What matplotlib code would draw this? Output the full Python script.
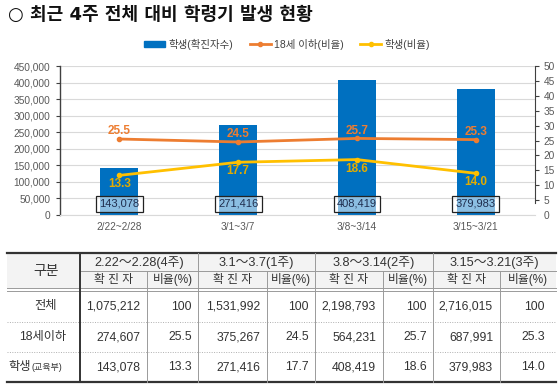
import matplotlib
matplotlib.use("Agg")
import matplotlib.pyplot as plt
from matplotlib.patches import Patch, Rectangle
from matplotlib.lines import Line2D
from matplotlib.ticker import FuncFormatter

plt.rcParams['font.family'] = ['Liberation Sans', 'Noto Sans CJK KR', 'DejaVu Sans']

# ---------------- data ----------------
title = "○ 최근 4주 전체 대비 학령기 발생 현황"
week_labels = ["2/22~2/28", "3/1~3/7", "3/8~3/14", "3/15~3/21"]
periods = ["2.22～2.28(4주)", "3.1～3.7(1주)", "3.8～3.14(2주)", "3.15～3.21(3주)"]
total_cases = [1075212, 1531992, 2198793, 2716015]
total_ratio = [100, 100, 100, 100]
under18_cases = [274607, 375267, 564231, 687991]
under18_ratio = [25.5, 24.5, 25.7, 25.3]
student_cases = [143078, 271416, 408419, 379983]
student_ratio = [13.3, 17.7, 18.6, 14.0]
legend_labels = ["학생(확진자수)", "18세 이하(비율)", "학생(비율)"]
row_labels = ["전체", "18세이하", "학생"]
row_label_suffix = "(교육부)"
sub_headers = ["확 진 자", "비율(%)"]
corner_label = "구분"

BLUE = '#0070C0'
ORANGE = '#ED7D31'
YELLOW = '#FFC000'
TICKC = '#595959'

W, H = 559, 387
fig = plt.figure(figsize=(W / 100, H / 100), dpi=100)

# ---------------- chart ----------------
ax = fig.add_axes([60 / W, (H - 215) / H, (535 - 60) / W, (215 - 66) / H])
x = list(range(len(week_labels)))
ax.bar(x, student_cases, width=0.32, color=BLUE, zorder=2)
ax.set_xlim(-0.5, 3.5)
ax.set_ylim(0, 450000)
ax.set_yticks(range(0, 450001, 50000))
ax.yaxis.set_major_formatter(FuncFormatter(lambda v, p: f"{int(v):,}"))
ax.grid(axis='y', color='#D9D9D9', lw=0.8)
ax.set_axisbelow(True)
ax.set_xticks(x)
ax.set_xticklabels(week_labels)
ax.tick_params(axis='x', length=0, pad=5, labelsize=7.3, labelcolor=TICKC)
ax.tick_params(axis='y', direction='out', length=3, width=0.8, color='#404040',
               pad=4, labelsize=7.3, labelcolor=TICKC)
for s in ['top', 'right']:
    ax.spines[s].set_visible(False)
ax.spines['bottom'].set_color('#D9D9D9')
ax.spines['left'].set_color('#404040')
ax.spines['left'].set_linewidth(1.0)

for i, v in enumerate(student_cases):
    ax.annotate(f"{v:,}", xy=(i, 0), xytext=(0, 8), textcoords='offset points',
                ha='center', va='center', fontsize=8, color='#1F2D4D', zorder=5,
                bbox=dict(boxstyle='square,pad=0.3', fc=(1, 1, 1, 0.55), ec='#222222', lw=0.9))

ax2 = ax.twinx()
ax2.set_ylim(0, 50)
ax2.set_yticks(range(0, 51, 5))
ax2.plot(x, under18_ratio, color=ORANGE, lw=2, marker='o', ms=3, zorder=3)
ax2.plot(x, student_ratio, color=YELLOW, lw=2, marker='o', ms=3, zorder=3)
for s in ['top', 'left', 'bottom']:
    ax2.spines[s].set_visible(False)
ax2.spines['right'].set_color('#404040')
ax2.spines['right'].set_bounds(4, 50)
ax2.tick_params(axis='y', direction='out', length=3, width=0.8, color='#404040',
                pad=3, labelsize=7.3, labelcolor=TICKC)
ax2.yaxis.get_major_ticks()[0].tick2line.set_visible(False)

for i, v in enumerate(under18_ratio):
    ax2.annotate(f"{v:.1f}", xy=(i, v), xytext=(0, 5.5), textcoords='offset points',
                 ha='center', va='center', fontsize=8.5, fontweight='bold', color=ORANGE)
for i, v in enumerate(student_ratio):
    ax2.annotate(f"{v:.1f}", xy=(i, v), xytext=(0, -6.5), textcoords='offset points',
                 ha='center', va='center', fontsize=8.5, fontweight='bold', color='#E3AC00')

handles = [Patch(color=BLUE),
           Line2D([], [], color=ORANGE, lw=2, marker='o', ms=3),
           Line2D([], [], color=YELLOW, lw=2, marker='o', ms=3)]
fig.legend(handles, legend_labels, ncol=3, loc='center',
           bbox_to_anchor=(287 / W, (H - 44) / H), frameon=False, fontsize=7.5,
           handlelength=2.0, handleheight=0.55, handletextpad=0.3, columnspacing=1.6,
           labelcolor='#404040')

fig.text(8 / W, (H - 15) / H, title, fontsize=13, fontweight='bold', va='center',
         ha='left', family=['DejaVu Sans', 'Noto Sans CJK KR'], color='#111111')

# ---------------- table ----------------
tax = fig.add_axes([0, 0, 1, 1])
tax.set_xlim(0, W)
tax.set_ylim(H, 0)
tax.axis('off')

col_edges = [7, 80, 147, 198, 267, 315, 383, 433, 500, 556]
y_top, y_h1, y_h2a, y_h2b = 253, 271, 288, 291
row_edges = [291, 322, 352, 382]
TXT = '#333333'
GRID = '#9A9A9A'
FS = 8.8

tax.add_patch(Rectangle((col_edges[0], y_top), col_edges[-1] - col_edges[0], y_h2a - y_top,
                        fc='#F3F3F3', ec='none', zorder=0))
tax.plot([col_edges[0], col_edges[-1]], [y_top, y_top], color='#333333', lw=1.6)
tax.plot([col_edges[1], col_edges[-1]], [y_h1, y_h1], color=GRID, lw=0.7)
tax.plot([col_edges[0], col_edges[-1]], [y_h2a, y_h2a], color=GRID, lw=0.7)
tax.plot([col_edges[0], col_edges[-1]], [y_h2b, y_h2b], color=GRID, lw=0.7)
for yy in row_edges[1:-1]:
    tax.plot([col_edges[0], col_edges[-1]], [yy, yy], color='#B0B0B0', lw=0.7, ls=(0, (1, 1.5)))
tax.plot([col_edges[0], col_edges[-1]], [row_edges[-1], row_edges[-1]], color='#333333', lw=1.6)

tax.plot([col_edges[1], col_edges[1]], [y_top, row_edges[-1]], color='#333333', lw=1.4)
for k in (3, 5, 7):
    tax.plot([col_edges[k], col_edges[k]], [y_top, row_edges[-1]], color=GRID, lw=0.7)
for k in (2, 4, 6, 8):
    tax.plot([col_edges[k], col_edges[k]], [y_h1, row_edges[-1]], color=GRID, lw=0.7)

tax.text((col_edges[0] + col_edges[1]) / 2 + 3, (y_top + y_h2a) / 2, corner_label,
         ha='center', va='center', fontsize=10, color=TXT)
for g, p in enumerate(periods):
    x0, x1 = col_edges[1 + 2 * g], col_edges[3 + 2 * g]
    tax.text((x0 + x1) / 2, (y_top + y_h1) / 2 + 0.5, p, ha='center', va='center',
             fontsize=9.2, color=TXT)
    for j in range(2):
        a, b = col_edges[1 + 2 * g + j], col_edges[2 + 2 * g + j]
        tax.text((a + b) / 2, (y_h1 + y_h2a) / 2, sub_headers[j], ha='center', va='center',
                 fontsize=8.5, color=TXT)

rows = [(total_cases, total_ratio, lambda v: f"{v}"),
        (under18_cases, under18_ratio, lambda v: f"{v:.1f}"),
        (student_cases, student_ratio, lambda v: f"{v:.1f}")]
ratio_pad = [6, 6, 6, 11]
for r, (cases, ratios, fmt) in enumerate(rows):
    yc = (row_edges[r] + row_edges[r + 1]) / 2
    for g in range(4):
        tax.text(col_edges[2 + 2 * g] - 7, yc, f"{cases[g]:,}", ha='right', va='center',
                 fontsize=FS, color=TXT)
        tax.text(col_edges[3 + 2 * g] - ratio_pad[g], yc, fmt(ratios[g]), ha='right',
                 va='center', fontsize=FS, color=TXT)

lab_x = (col_edges[0] + col_edges[1]) / 2 + 2
y0 = (row_edges[0] + row_edges[1]) / 2
tax.text(lab_x, y0, row_labels[0], ha='center', va='center', fontsize=FS, color=TXT)
y1 = (row_edges[1] + row_edges[2]) / 2
tax.text(lab_x - 3, y1, row_labels[1], ha='center', va='center', fontsize=FS, color=TXT)
y2 = (row_edges[2] + row_edges[3]) / 2
tax.text(31, y2, row_labels[2], ha='right', va='center', fontsize=FS, color=TXT)
tax.text(31, y2 + 1, row_label_suffix, ha='left', va='center', fontsize=6.5, color=TXT)

fig.savefig("out.png", dpi=100)
